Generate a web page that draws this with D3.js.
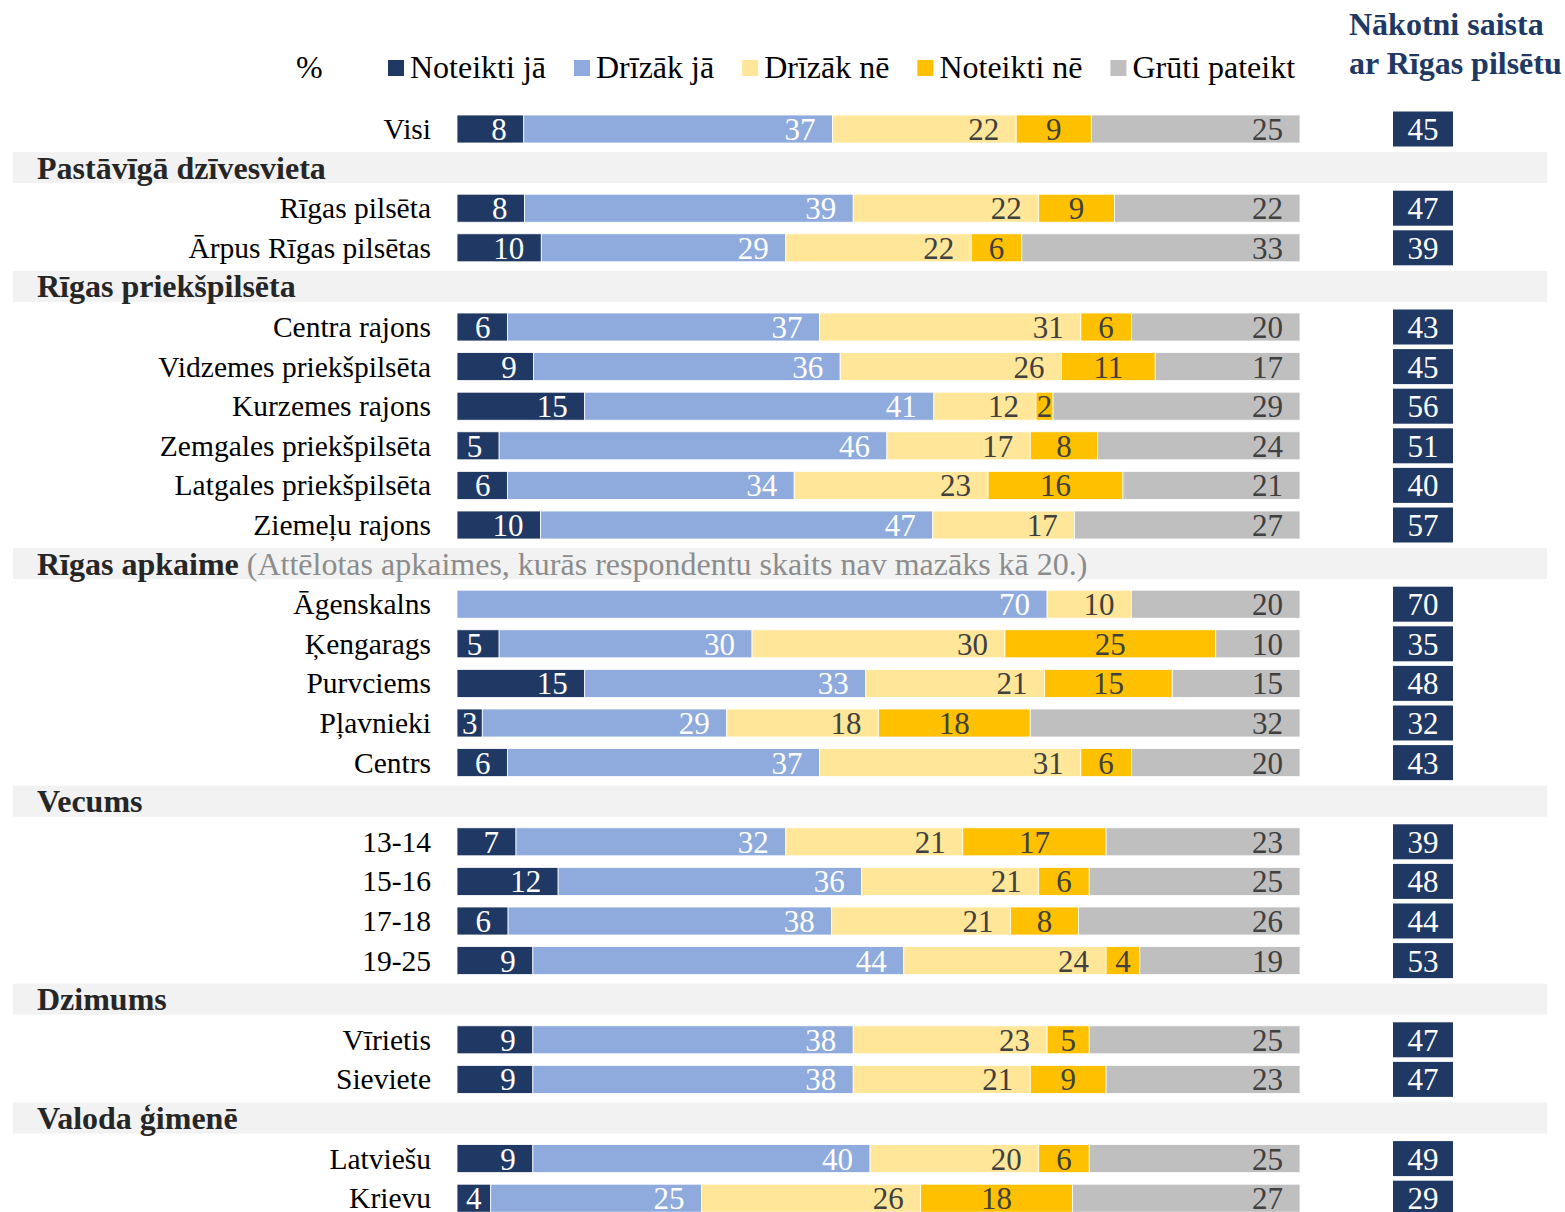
<!DOCTYPE html>
<html>
<head>
<meta charset="utf-8">
<script src="https://cdn.jsdelivr.net/npm/d3@7"></script>
<style>
  html, body { margin: 0; padding: 0; background: #fff; }
  svg { display: block; font-family: "Liberation Serif", "Times New Roman", serif; }
</style>
</head>
<body>
<svg id="chart" width="1565" height="1212"></svg>
<script>
// ---------- DATA ----------
const seriesNames = ["Noteikti jā", "Drīzāk jā", "Drīzāk nē", "Noteikti nē", "Grūti pateikt"];
const seriesColors = ["#203864", "#8FAADC", "#FFE699", "#FFC000", "#BFBFBF"];
const labelColors = ["#ffffff", "#ffffff", "#404040", "#404040", "#404040"];

const groups = ["", "Pastāvīgā dzīvesvieta", "Rīgas priekšpilsēta", "Rīgas apkaime", "Vecums", "Dzimums", "Valoda ģimenē"];
const groupNote = "(Attēlotas apkaimes, kurās respondentu skaits nav mazāks kā 20.)";
const noteGroup = "Rīgas apkaime";

const categories = ["Visi", "Rīgas pilsēta", "Ārpus Rīgas pilsētas",
  "Centra rajons", "Vidzemes priekšpilsēta", "Kurzemes rajons", "Zemgales priekšpilsēta", "Latgales priekšpilsēta", "Ziemeļu rajons",
  "Āgenskalns", "Ķengarags", "Purvciems", "Pļavnieki", "Centrs",
  "13-14", "15-16", "17-18", "19-25",
  "Vīrietis", "Sieviete",
  "Latviešu", "Krievu"];
const categoryGroup = [0, 1, 1, 2, 2, 2, 2, 2, 2, 3, 3, 3, 3, 3, 4, 4, 4, 4, 5, 5, 6, 6];

const noteiktiJa   = [8, 8, 10, 6, 9, 15, 5, 6, 10, 0, 5, 15, 3, 6, 7, 12, 6, 9, 9, 9, 9, 4];
const drizakJa     = [37, 39, 29, 37, 36, 41, 46, 34, 47, 70, 30, 33, 29, 37, 32, 36, 38, 44, 38, 38, 40, 25];
const drizakNe     = [22, 22, 22, 31, 26, 12, 17, 23, 17, 10, 30, 21, 18, 31, 21, 21, 21, 24, 23, 21, 20, 26];
const noteiktiNe   = [9, 9, 6, 6, 11, 2, 8, 16, 0, 0, 25, 15, 18, 6, 17, 6, 8, 4, 5, 9, 6, 18];
const grutiPateikt = [25, 22, 33, 20, 17, 29, 24, 21, 27, 20, 10, 15, 32, 20, 23, 25, 26, 19, 25, 23, 25, 27];

const rightTitle = ["Nākotni saista", "ar Rīgas pilsētu"];
const nakotniSaista = [45, 47, 39, 43, 45, 56, 51, 40, 57, 70, 35, 48, 32, 43, 39, 48, 44, 53, 47, 47, 49, 29];

const legendPrefix = "%";

// ---------- BUILD ROWS ----------
const seriesValues = [noteiktiJa, drizakJa, drizakNe, noteiktiNe, grutiPateikt];
const rows = [];
let prevGroup = 0;
categories.forEach((c, i) => {
  const g = categoryGroup[i];
  if (g !== prevGroup && g !== 0) rows.push({ type: "header", title: groups[g] });
  prevGroup = g;
  rows.push({ type: "bar", label: c, idx: i });
});

// ---------- SCALES ----------
const svg = d3.select("#chart");
const y = d3.scaleLinear().domain([0, rows.length - 1]).range([129, 1198.2]);
const x = d3.scaleLinear().domain([0, 100]).range([457, 1300]);
const barH = 28;

// ---------- HEADER BANDS ----------
rows.forEach((r, i) => {
  if (r.type !== "header") return;
  const cy = y(i);
  svg.append("rect").attr("x", 13).attr("y", cy - 16.5).attr("width", 1534).attr("height", 31)
    .attr("fill", "#F2F2F2");
  const t = svg.append("text").attr("x", 37).attr("y", cy + 10)
    .attr("font-size", 32).attr("fill", "#262626");
  t.append("tspan").attr("font-weight", "bold").text(r.title);
  if (r.title === noteGroup) {
    t.append("tspan").attr("fill", "#8c8c8c").attr("font-weight", "normal").text(" " + groupNote);
  }
});

// ---------- BARS ----------
rows.forEach((r, i) => {
  if (r.type !== "bar") return;
  const cy = y(i);
  const vals = seriesValues.map(s => s[r.idx]);
  const total = d3.sum(vals);
  const norm = d3.scaleLinear().domain([0, total]).range([0, 100]);

  svg.append("text").attr("x", 431).attr("y", cy + 10).attr("text-anchor", "end")
    .attr("font-size", 29.5).attr("fill", "#000").text(r.label);

  let cum = 0;
  const g = svg.append("g");
  vals.forEach((v, k) => {
    if (v <= 0) return;
    const x0 = x(norm(cum)), x1 = x(norm(cum + v));
    cum += v;
    g.append("rect").attr("x", x0).attr("y", cy - barH / 2).attr("width", x1 - x0).attr("height", barH)
      .attr("fill", seriesColors[k]).attr("stroke", "#ffffff").attr("stroke-width", 0.8);
    const t = g.append("text").attr("y", cy + 11).attr("font-size", 31)
      .attr("fill", labelColors[k]).text(v);
    const w = t.node().getComputedTextLength();
    if (k === 3) {
      t.attr("x", (x0 + x1) / 2).attr("text-anchor", "middle");
    } else {
      const right = x1 - 17;
      if (right - w < x0 + 2) {
        t.attr("x", (x0 + x1) / 2).attr("text-anchor", "middle");
      } else {
        t.attr("x", right).attr("text-anchor", "end");
      }
    }
  });

  // right column box
  svg.append("rect").attr("x", 1393).attr("y", cy - 17.5).attr("width", 60).attr("height", 35)
    .attr("fill", "#203864");
  svg.append("text").attr("x", 1423).attr("y", cy + 11).attr("text-anchor", "middle")
    .attr("font-size", 31).attr("fill", "#fff").text(nakotniSaista[r.idx]);
});

// ---------- LEGEND ----------
svg.append("text").attr("x", 296).attr("y", 78).attr("font-size", 32).attr("fill", "#000").text(legendPrefix);
let lx = 388;
seriesNames.forEach((name, k) => {
  svg.append("rect").attr("x", lx).attr("y", 60).attr("width", 16).attr("height", 16).attr("fill", seriesColors[k]);
  const t = svg.append("text").attr("x", lx + 22).attr("y", 78).attr("font-size", 32).attr("fill", "#000").text(name);
  lx = lx + 22 + t.node().getComputedTextLength() + 28;
});

// ---------- RIGHT TITLE ----------
rightTitle.forEach((line, j) => {
  svg.append("text").attr("x", 1349).attr("y", 35 + j * 39).attr("font-size", 32).attr("font-weight", "bold")
    .attr("fill", "#203864").text(line);
});
</script>
</body>
</html>
